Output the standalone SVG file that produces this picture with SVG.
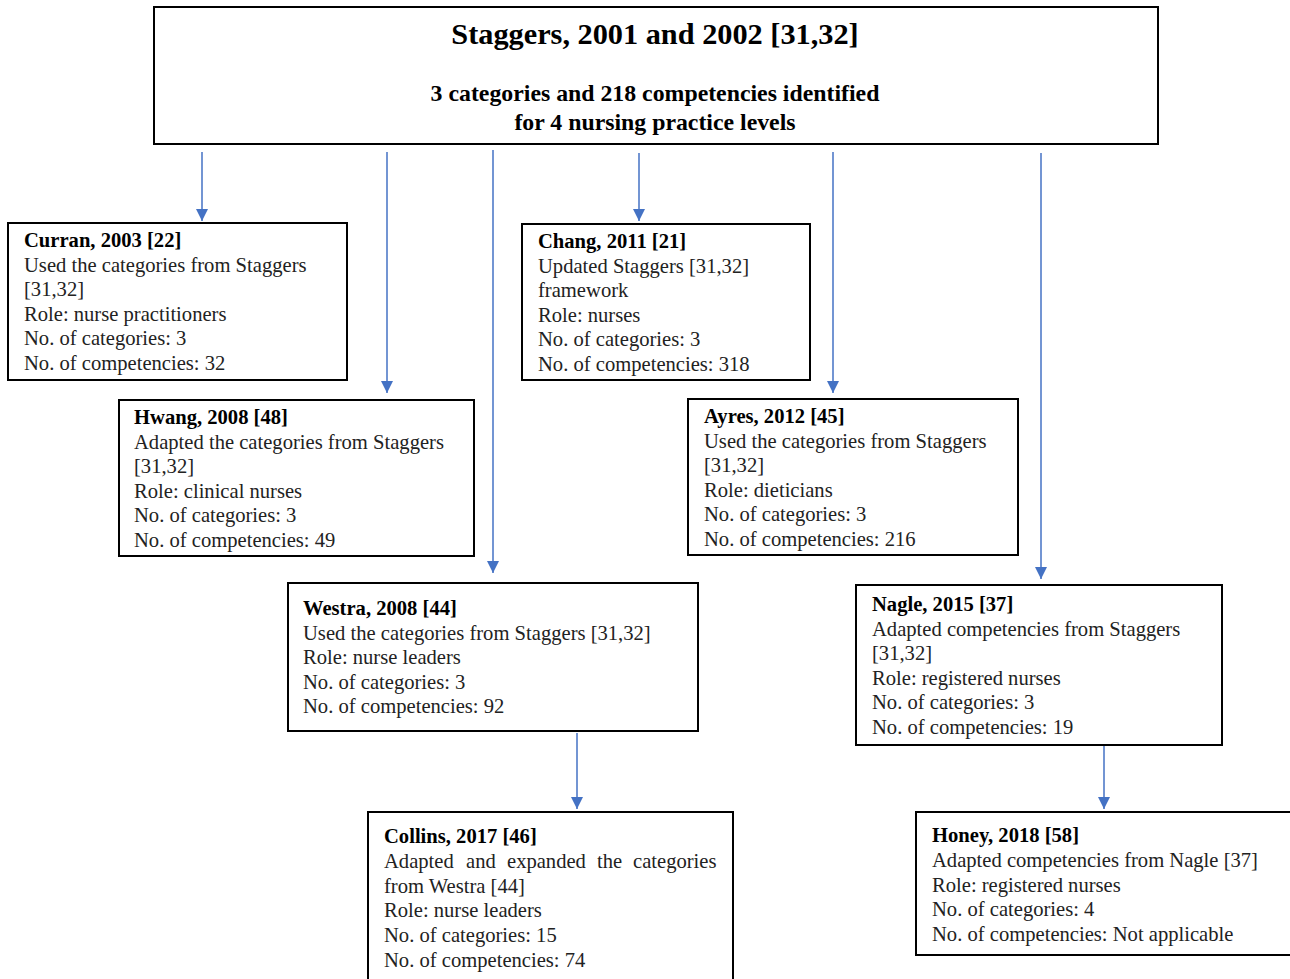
<svg xmlns="http://www.w3.org/2000/svg" width="1290" height="979" viewBox="0 0 1290 979">
<defs>
<marker id="ah" viewBox="0 0 10 10" refX="10" refY="5" markerWidth="12" markerHeight="12" markerUnits="userSpaceOnUse" orient="auto">
<path d="M0,0 L10,5 L0,10 z" fill="#4472C4"/>
</marker>
<style>
.box{fill:#fff;stroke:#000;stroke-width:2}
.t{font-family:"Liberation Serif","Times New Roman",serif;font-size:20.6px;fill:#222}
.b{font-weight:bold;fill:#000}
.h1{font-family:"Liberation Serif","Times New Roman",serif;font-size:30.3px;font-weight:bold;fill:#000;text-anchor:middle}
.h2{font-family:"Liberation Serif","Times New Roman",serif;font-size:23.8px;font-weight:bold;fill:#000;text-anchor:middle}
.c{stroke:#4472C4;stroke-width:1.5;fill:none;marker-end:url(#ah)}
</style>
</defs>
<rect width="1290" height="979" fill="#fff"/>
<g id="connectors">
<line class="c" x1="202" y1="152" x2="202" y2="221"/>
<line class="c" x1="387" y1="152" x2="387" y2="393"/>
<line class="c" x1="493" y1="150" x2="493" y2="573"/>
<line class="c" x1="639" y1="153" x2="639" y2="221"/>
<line class="c" x1="833" y1="152" x2="833" y2="393"/>
<line class="c" x1="1041" y1="153" x2="1041" y2="579"/>
<line class="c" x1="577" y1="733" x2="577" y2="809"/>
<line class="c" x1="1104" y1="746" x2="1104" y2="809"/>
</g>
<g id="staggers">
<rect class="box" x="154" y="7" width="1004" height="137"/>
<text class="h1" x="655" y="44">Staggers, 2001 and 2002 [31,32]</text>
<text class="h2" x="655" y="101">3 categories and 218 competencies identified</text>
<text class="h2" x="655" y="130">for 4 nursing practice levels</text>
</g>
<g id="curran">
<rect class="box" x="8" y="223" width="339" height="157"/>
<text class="t" x="24" y="247"><tspan class="b">Curran, 2003 [22]</tspan><tspan x="24" dy="24.6">Used the categories from Staggers</tspan><tspan x="24" dy="24.6">[31,32]</tspan><tspan x="24" dy="24.6">Role: nurse practitioners</tspan><tspan x="24" dy="24.6">No. of categories: 3</tspan><tspan x="24" dy="24.6">No. of competencies: 32</tspan></text>
</g>
<g id="chang">
<rect class="box" x="522" y="224" width="288" height="156"/>
<text class="t" x="538" y="248"><tspan class="b">Chang, 2011 [21]</tspan><tspan x="538" dy="24.6">Updated Staggers [31,32]</tspan><tspan x="538" dy="24.6">framework</tspan><tspan x="538" dy="24.6">Role: nurses</tspan><tspan x="538" dy="24.6">No. of categories: 3</tspan><tspan x="538" dy="24.6">No. of competencies: 318</tspan></text>
</g>
<g id="hwang">
<rect class="box" x="119" y="400" width="355" height="156"/>
<text class="t" x="134" y="424"><tspan class="b">Hwang, 2008 [48]</tspan><tspan x="134" dy="24.6">Adapted the categories from Staggers</tspan><tspan x="134" dy="24.6">[31,32]</tspan><tspan x="134" dy="24.6">Role: clinical nurses</tspan><tspan x="134" dy="24.6">No. of categories: 3</tspan><tspan x="134" dy="24.6">No. of competencies: 49</tspan></text>
</g>
<g id="ayres">
<rect class="box" x="688" y="399" width="330" height="156"/>
<text class="t" x="704" y="423"><tspan class="b">Ayres, 2012 [45]</tspan><tspan x="704" dy="24.6">Used the categories from Staggers</tspan><tspan x="704" dy="24.6">[31,32]</tspan><tspan x="704" dy="24.6">Role: dieticians</tspan><tspan x="704" dy="24.6">No. of categories: 3</tspan><tspan x="704" dy="24.6">No. of competencies: 216</tspan></text>
</g>
<g id="westra">
<rect class="box" x="288" y="583" width="410" height="148"/>
<text class="t" x="303" y="615"><tspan class="b">Westra, 2008 [44]</tspan><tspan x="303" dy="24.6">Used the categories from Staggers [31,32]</tspan><tspan x="303" dy="24.6">Role: nurse leaders</tspan><tspan x="303" dy="24.6">No. of categories: 3</tspan><tspan x="303" dy="24.6">No. of competencies: 92</tspan></text>
</g>
<g id="nagle">
<rect class="box" x="856" y="585" width="366" height="160"/>
<text class="t" x="872" y="611"><tspan class="b">Nagle, 2015 [37]</tspan><tspan x="872" dy="24.6">Adapted competencies from Staggers</tspan><tspan x="872" dy="24.6">[31,32]</tspan><tspan x="872" dy="24.6">Role: registered nurses</tspan><tspan x="872" dy="24.6">No. of categories: 3</tspan><tspan x="872" dy="24.6">No. of competencies: 19</tspan></text>
</g>
<g id="collins">
<rect class="box" x="368" y="812" width="365" height="180"/>
<text class="t" x="384" y="843"><tspan class="b">Collins, 2017 [46]</tspan></text>
<text class="t" y="868"><tspan x="384">Adapted</tspan> <tspan x="466">and</tspan> <tspan x="507">expanded</tspan> <tspan x="597">the</tspan> <tspan x="633">categories</tspan></text>
<text class="t" x="384" y="892.6"><tspan x="384">from Westra [44]</tspan><tspan x="384" dy="24.8">Role: nurse leaders</tspan><tspan x="384" dy="24.8">No. of categories: 15</tspan><tspan x="384" dy="24.8">No. of competencies: 74</tspan></text>
</g>
<g id="honey">
<rect class="box" x="916" y="812" width="380" height="143"/>
<text class="t" x="932" y="842"><tspan class="b">Honey, 2018 [58]</tspan><tspan x="932" dy="24.8">Adapted competencies from Nagle [37]</tspan><tspan x="932" dy="24.8">Role: registered nurses</tspan><tspan x="932" dy="24.8">No. of categories: 4</tspan><tspan x="932" dy="24.8">No. of competencies: Not applicable</tspan></text>
</g>
</svg>
